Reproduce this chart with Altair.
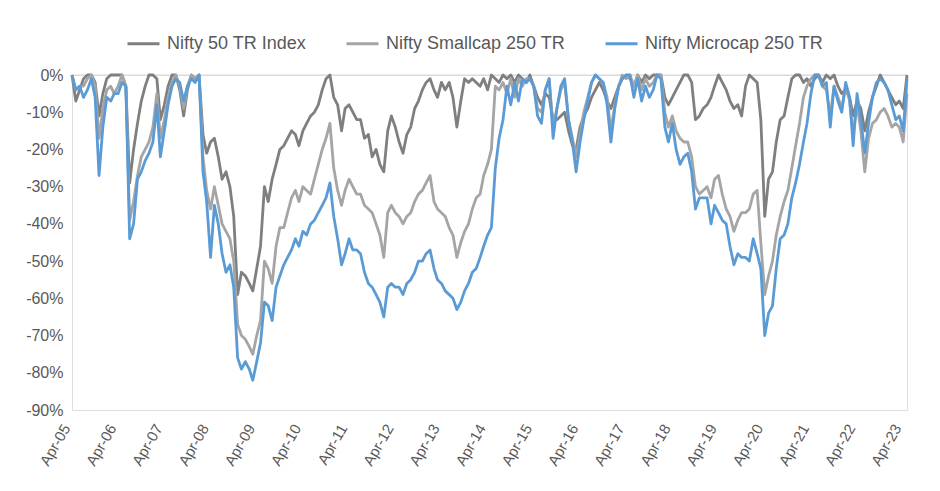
import altair as alt
import pandas as pd

# Monthly drawdown readings (%), Apr-2005 .. May-2023 (218 months)
months = pd.date_range("2005-04-01", periods=218, freq="MS").strftime("%Y-%m-%d").tolist()

nifty50 = [
    0, -7, -4, -1, 0, 0, -2, -11, -5, -1,
    0, 0, 0, 0, -3, -29, -20, -13, -7, -3,
    0, 0, -1, -12, -8, -3, 0, 0, -4, -11,
    -4, 0, -1, 0, -16, -21, -18, -17, -22, -28,
    -26, -30, -38, -59, -53, -54, -56, -58, -52, -46,
    -30, -34, -28, -24, -20, -19, -17, -15, -16, -19,
    -15, -13, -11, -10, -8, -4, -1, 0, -6, -8,
    -15, -9, -8, -10, -12, -12, -17, -16, -22, -20,
    -24, -26, -15, -11, -14, -18, -21, -16, -14, -9,
    -7, -4, -2, -1, -4, -6, -2, -4, -2, -6,
    -14, -7, -1, -2, -1, -2, -3, -1, -4, 0,
    -1, -2, 0, -1, 0, -2, 0, -1, -2, 0,
    -3, -6, -8, -5, -6, -12, -12, -11, -10, -15,
    -19, -20, -14, -11, -9, -6, -4, -2, -4, -7,
    -9, -6, -3, -1, 0, -1, -3, 0, -2, 0,
    -1, 0, 0, 0, -6, -8, -6, -4, -2, 0,
    0, -2, -12, -11, -9, -8, -6, -3, 0, -2,
    -4, -7, -9, -8, -11, -3, 0, -1, -2, -12,
    -38, -28, -26, -18, -12, -11, -6, -1, 0, 0,
    -2, -1, -3, -1, 0, -2, 0, -1, 0, -3,
    -5, -4, -6, -11, -7, -9, -15, -10, -6, -3,
    0, -2, -4, -6, -8, -7, -9, 0,
]

smallcap = [
    0, -4, -3, -3, -1, 0, -3, -17, -9, -4,
    -3, -5, -3, 0, -3, -39, -34, -27, -22, -20,
    -18, -14, -5, -17, -12, -6, -2, 0, -3, -9,
    -3, 0, -1, 0, -22, -31, -36, -30, -35, -40,
    -42, -44, -50, -67, -70, -71, -73, -75, -70, -66,
    -50, -52, -56, -46, -41, -41, -37, -33, -31, -34,
    -30, -31, -32, -28, -24, -20, -17, -13, -25, -31,
    -35, -31, -28, -30, -32, -32, -35, -36, -37, -40,
    -43, -49, -37, -35, -37, -38, -40, -38, -37, -34,
    -32, -31, -29, -27, -34, -36, -37, -38, -41, -43,
    -49, -45, -42, -40, -36, -33, -32, -27, -24, -20,
    -3, -4, -2, -5, -1, -6, -1, -3, -1, -1,
    -3, -9, -10, -4, -1, -14, -9, -4, -2, -12,
    -17, -22, -16, -10, -6, -2, 0, -1, -2, -6,
    -15, -8, -3, 0, -1, 0, -3, 0, -4, -1,
    -3, -2, 0, 0, -10, -14, -11, -15, -17, -18,
    -18, -22, -30, -32, -31, -30, -33, -28, -27, -32,
    -36, -38, -42, -39, -37, -37, -36, -32, -31, -45,
    -59, -54, -50, -43, -38, -34, -31, -25, -19, -13,
    -6, -3, -1, 0, 0, -3, -4, -11, -3, -6,
    -9, -3, -7, -16, -8, -15, -26, -17, -13, -12,
    -10, -9, -11, -14, -13, -14, -18, -5,
]

microcap = [
    0, -4, -3, -6, -4, -1, -6, -27, -14, -6,
    -7, -5, -5, -2, -3, -44, -40, -28, -26, -23,
    -21, -18, -8, -22, -15, -8, -3, -1, -2, -7,
    -3, -1, -2, 0, -26, -34, -49, -35, -40, -48,
    -53, -51, -57, -76, -79, -77, -79, -82, -77, -72,
    -61, -62, -66, -57, -54, -51, -49, -47, -44, -46,
    -42, -43, -40, -39, -37, -35, -33, -29, -38, -44,
    -51, -48, -44, -47, -47, -48, -53, -56, -57, -59,
    -61, -65, -57, -56, -57, -57, -59, -56, -55, -53,
    -50, -50, -48, -47, -52, -55, -56, -58, -59, -60,
    -63, -61, -58, -56, -53, -52, -49, -46, -43, -41,
    -25, -17, -12, -3, -8, -2, -7, -1, -2, -1,
    -3, -11, -13, -4, -1, -17, -9, -3, -1, -12,
    -18, -26, -18, -12, -7, -2, 0, -1, -2, -8,
    -18, -9, -3, -1, 0, 0, -6, -1, -7, -3,
    -6, -4, 0, -1, -14, -18, -13, -20, -24, -22,
    -21, -26, -36, -33, -33, -33, -40, -35, -37, -39,
    -40, -46, -51, -48, -49, -49, -50, -44, -48, -52,
    -70, -64, -62, -52, -44, -43, -40, -33, -29, -24,
    -18, -13, -5, 0, 0, -3, -2, -14, -3, -7,
    -10, -2, -6, -19, -5, -12, -21, -13, -6, -2,
    -1, -2, -4, -8, -12, -11, -15, -1,
]

names = ["Nifty 50 TR Index", "Nifty Smallcap 250 TR", "Nifty Microcap 250 TR"]
colors = ["#7f7f7f", "#a5a5a5", "#5b9bd5"]
year_ticks = list(range(2005, 2024))
y_ticks = [0, -10, -20, -30, -40, -50, -60, -70, -80, -90]

rows = []
for name, vals in zip(names, [nifty50, smallcap, microcap]):
    for d, v in zip(months, vals):
        rows.append({"date": d, "series": name, "dd": v})
df = pd.DataFrame(rows)

TXT = "#595959"
FONT = "Liberation Sans"

x_enc = alt.X(
    "date:T",
    title=None,
    scale=alt.Scale(domain=[alt.DateTime(year=2005, month=4, date=1, utc=True),
                            alt.DateTime(year=2023, month=5, date=1, utc=True)]),
    axis=alt.Axis(
        values=[alt.DateTime(year=y, month=4, date=1, utc=True) for y in year_ticks],
        labelExpr="utcFormat(datum.value, '%b-%y')",
        labelAngle=300, labelFontSize=15, labelColor=TXT, labelFont=FONT,
        domain=False, ticks=False, grid=False, labelPadding=15, labelOffset=-6,
        labelOverlap=False,
    ),
)
y_enc = alt.Y(
    "dd:Q",
    title=None,
    scale=alt.Scale(domain=[-90, 0], nice=False),
    axis=alt.Axis(
        values=y_ticks, labelExpr="datum.value + '%'",
        labelFontSize=16, labelColor=TXT, labelFont=FONT,
        domain=False, ticks=False, grid=False, labelPadding=9,
        labelOverlap=False, labelFlush=False,
    ),
)
color_enc = alt.Color(
    "series:N",
    scale=alt.Scale(domain=names, range=colors),
    legend=alt.Legend(
        title=None, orient="none", direction="horizontal",
        legendX=54, legendY=-49,
        symbolType="stroke", symbolSize=1024, symbolStrokeWidth=3,
        labelFontSize=18, labelColor=TXT, labelFont=FONT, labelLimit=400,
        labelOffset=6, columnPadding=33,
    ),
)

rule = alt.Chart(pd.DataFrame({"dd": [0]})).mark_rule(color="#d9d9d9", strokeWidth=1).encode(y=y_enc)

layers = [rule]
for name in names:
    layers.append(
        alt.Chart(df).transform_filter(alt.datum.series == name)
        .mark_line(strokeWidth=2.8, strokeJoin="round")
        .encode(x=x_enc, y=y_enc, color=color_enc)
    )

chart = alt.layer(*layers).properties(
    width=835, height=335,
    autosize=alt.AutoSizeParams(type="none"),
    padding={"left": 64, "top": 67, "right": 20, "bottom": 70},
).configure_view(stroke=None).configure(font=FONT)

chart.save("out.html", embed_options={"renderer": "svg", "actions": False})
